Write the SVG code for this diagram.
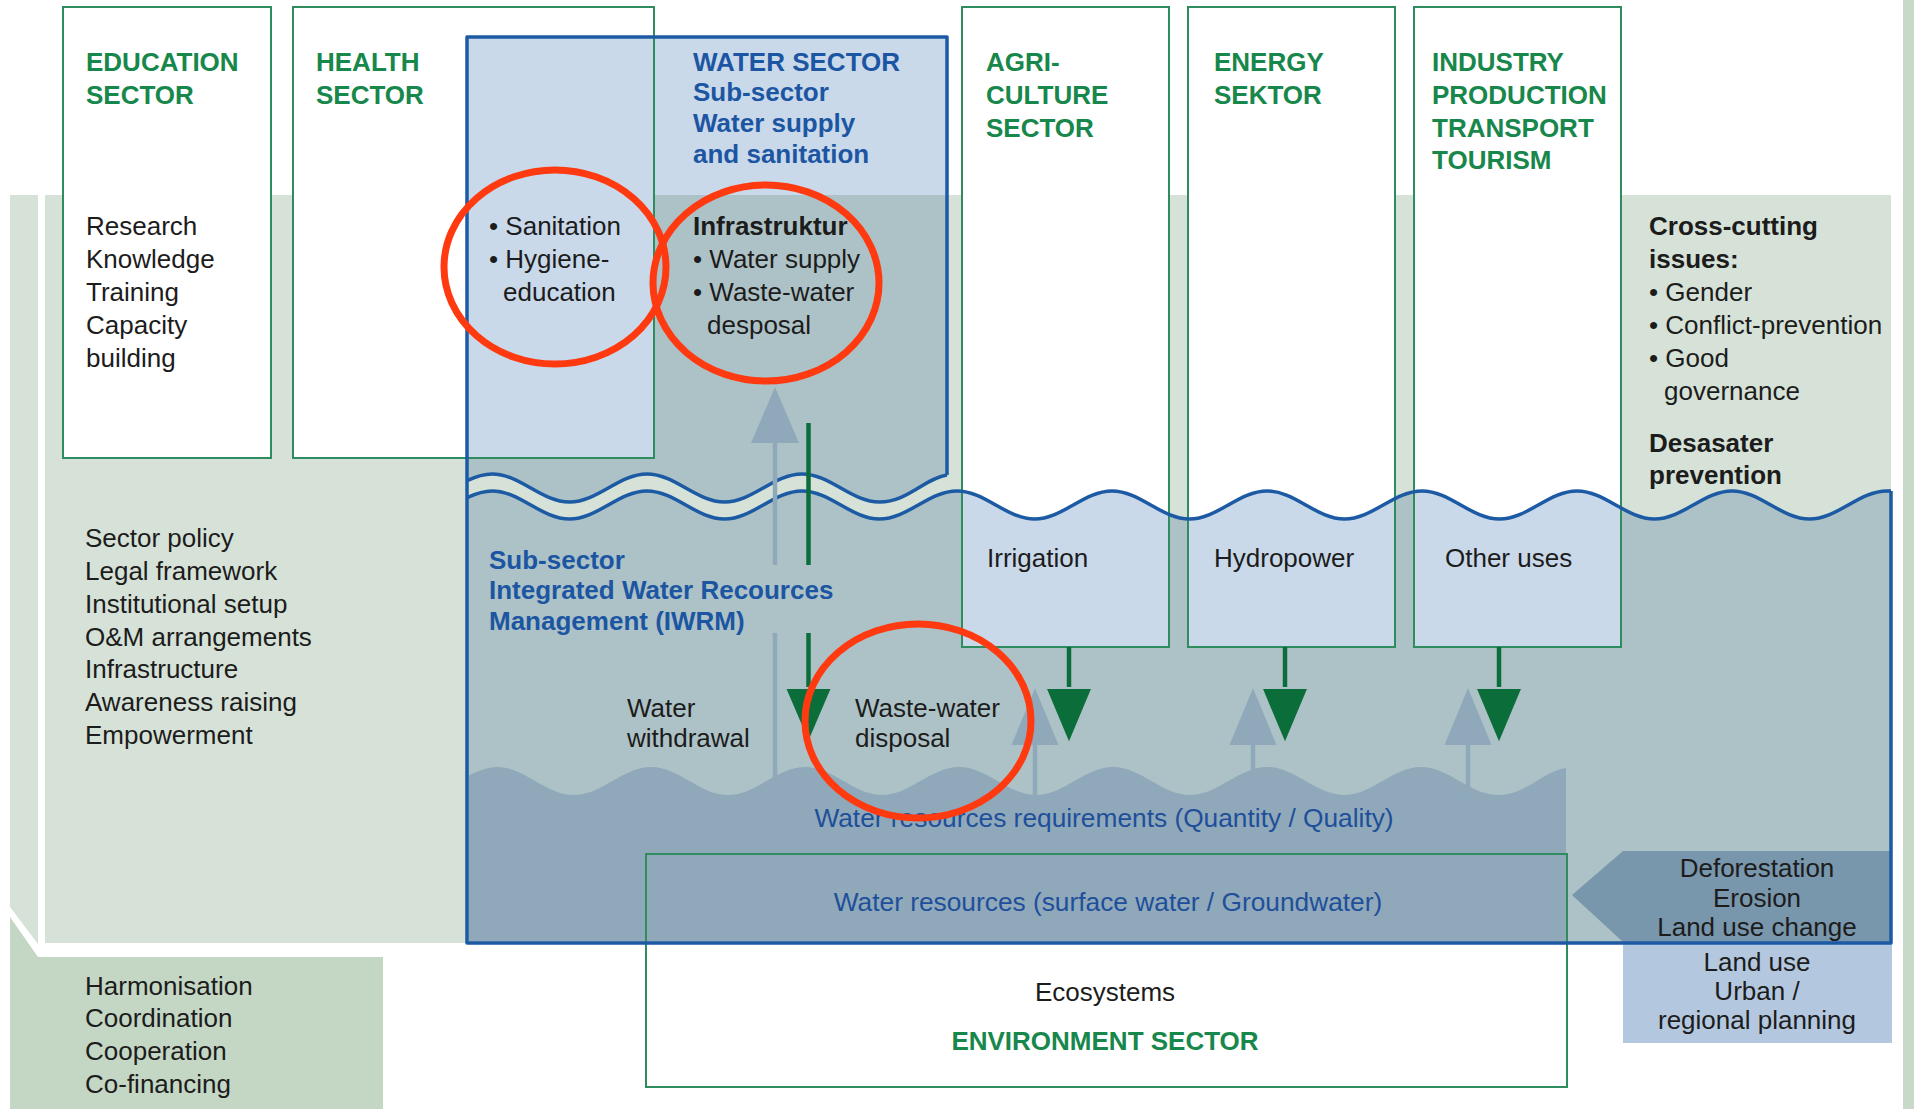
<svg xmlns="http://www.w3.org/2000/svg" width="1914" height="1109" viewBox="0 0 1914 1109">
<defs>
<style>
.t{font-family:"Liberation Sans",Arial,Helvetica,sans-serif;font-size:26px;fill:#1c1c1c}
.b{font-weight:bold}
.g{fill:#17874b}
.bl{fill:#1c56a2}
.bl2{fill:#1f4f9a;font-size:26.3px}
.m{text-anchor:middle}
.box{fill:#fff;stroke:#2f8c5e;stroke-width:2}
.frame{fill:none;stroke:#2f8c5e;stroke-width:2}
.lb{fill:#c9d9ea}
.teal{fill:#adc2c6}
.wave{fill:none;stroke:#1c5aa4;stroke-width:3.5;stroke-linejoin:round}
.gr{fill:#8fa9ba}
.gs{stroke:#8fa9ba;stroke-width:4.5}
.gn{fill:#0b6e3a;stroke:#adc2c6;stroke-width:2}
.gns{stroke:#0b6e3a;stroke-width:4.5}
.ring{fill:none;stroke:#ff3a10;stroke-width:7}
</style>
<clipPath id="iwrmClip">
<path d="M467,497.6 C475,494 483,491 492,491 C520.2,491 541.3,519 569.5,519 S618.8,491 647,491 S696.3,519 724.5,519 S773.8,491 802,491 S851.3,519 879.5,519 S928.8,491 957,491 S1006.3,519 1034.5,519 S1083.8,491 1112,491 S1161.3,519 1189.5,519 S1238.8,491 1267,491 S1316.3,519 1344.5,519 S1393.8,491 1422,491 S1471.3,519 1499.5,519 S1548.8,491 1577,491 S1626.3,519 1654.5,519 S1703.8,491 1732,491 S1781.3,519 1809.5,519 S1858.8,491 1887,491 L1891,491 V943 H467 Z"/>
</clipPath>
</defs>

<rect x="0" y="0" width="1914" height="1109" fill="#ffffff"/>

<g id="background">
<rect x="45" y="195" width="1846" height="748" fill="#d6e2d7"/>
<polygon points="10,195 38,195 38,944 10,907" fill="#d6e2d7"/>
<rect x="1903" y="0" width="11" height="1109" fill="#c8d9c8"/>
</g>

<g id="coordination">
<polygon points="10,917 38,957 383,957 383,1109 10,1109" fill="#c4d7c4"/>
<text class="t" x="85" y="995">Harmonisation</text>
<text class="t" x="85" y="1027">Coordination</text>
<text class="t" x="85" y="1060">Cooperation</text>
<text class="t" x="85" y="1093">Co-financing</text>
</g>

<g id="policy-list">
<text class="t" x="85" y="547">Sector policy</text>
<text class="t" x="85" y="580">Legal framework</text>
<text class="t" x="85" y="613">Institutional setup</text>
<text class="t" x="85" y="646">O&amp;M arrangements</text>
<text class="t" x="85" y="678">Infrastructure</text>
<text class="t" x="85" y="711">Awareness raising</text>
<text class="t" x="85" y="744">Empowerment</text>
</g>

<g id="iwrm-region">
<path class="teal" d="M467,497.6 C475,494 483,491 492,491 C520.2,491 541.3,519 569.5,519 S618.8,491 647,491 S696.3,519 724.5,519 S773.8,491 802,491 S851.3,519 879.5,519 S928.8,491 957,491 S1006.3,519 1034.5,519 S1083.8,491 1112,491 S1161.3,519 1189.5,519 S1238.8,491 1267,491 S1316.3,519 1344.5,519 S1393.8,491 1422,491 S1471.3,519 1499.5,519 S1548.8,491 1577,491 S1626.3,519 1654.5,519 S1703.8,491 1732,491 S1781.3,519 1809.5,519 S1858.8,491 1887,491 L1891,491 V943 H467 Z"/>
<text class="t b bl" x="489" y="569">Sub-sector</text>
<text class="t b bl" x="489" y="599">Integrated Water Recources</text>
<text class="t b bl" x="489" y="630">Management (IWRM)</text>
<text class="t" x="627" y="717">Water</text>
<text class="t" x="627" y="747">withdrawal</text>
<text class="t" x="855" y="717">Waste-water</text>
<text class="t" x="855" y="747">disposal</text>
</g>

<g id="education-sector">
<rect class="box" x="63" y="7" width="208" height="451"/>
<text class="t b g" x="86" y="71">EDUCATION</text>
<text class="t b g" x="86" y="104">SECTOR</text>
<text class="t" x="86" y="235">Research</text>
<text class="t" x="86" y="268">Knowledge</text>
<text class="t" x="86" y="301">Training</text>
<text class="t" x="86" y="334">Capacity</text>
<text class="t" x="86" y="367">building</text>
</g>

<g id="health-sector">
<rect class="box" x="293" y="7" width="361" height="451"/>
<text class="t b g" x="316" y="71">HEALTH</text>
<text class="t b g" x="316" y="104">SECTOR</text>
</g>

<g id="water-sector">
<path class="teal" d="M467,480.6 C475,477 483,474 492,474 C520.2,474 541.3,502 569.5,502 S618.8,474 647,474 S696.3,502 724.5,502 S773.8,474 802,474 S851.3,502 879.5,502 C907.7,502 925,478 947,475 V37 H467 Z"/>
<rect class="lb" x="467" y="37" width="480" height="158"/>
<rect class="lb" x="467" y="195" width="187" height="263"/>
<path class="frame" d="M467,458 H654 V37"/>
<text class="t b bl" x="693" y="71">WATER SECTOR</text>
<text class="t b bl" x="693" y="101">Sub-sector</text>
<text class="t b bl" x="693" y="132">Water supply</text>
<text class="t b bl" x="693" y="163">and sanitation</text>
<text class="t" x="489" y="235">• Sanitation</text>
<text class="t" x="489" y="268">• Hygiene-</text>
<text class="t" x="503" y="301">education</text>
<text class="t b" x="693" y="235">Infrastruktur</text>
<text class="t" x="693" y="268">• Water supply</text>
<text class="t" x="693" y="301">• Waste-water</text>
<text class="t" x="707" y="334">desposal</text>
</g>

<g id="agriculture-sector">
<rect x="962" y="7" width="207" height="640" fill="#fff"/>
<rect class="lb" x="962" y="7" width="207" height="640" clip-path="url(#iwrmClip)"/>
<rect class="frame" x="962" y="7" width="207" height="640"/>
<text class="t b g" x="986" y="71">AGRI-</text>
<text class="t b g" x="986" y="104">CULTURE</text>
<text class="t b g" x="986" y="137">SECTOR</text>
<text class="t" x="987" y="567">Irrigation</text>
</g>

<g id="energy-sector">
<rect x="1188" y="7" width="207" height="640" fill="#fff"/>
<rect class="lb" x="1188" y="7" width="207" height="640" clip-path="url(#iwrmClip)"/>
<rect class="frame" x="1188" y="7" width="207" height="640"/>
<text class="t b g" x="1214" y="71">ENERGY</text>
<text class="t b g" x="1214" y="104">SEKTOR</text>
<text class="t" x="1214" y="567">Hydropower</text>
</g>

<g id="industry-sector">
<rect x="1414" y="7" width="207" height="640" fill="#fff"/>
<rect class="lb" x="1414" y="7" width="207" height="640" clip-path="url(#iwrmClip)"/>
<rect class="frame" x="1414" y="7" width="207" height="640"/>
<text class="t b g" x="1432" y="71">INDUSTRY</text>
<text class="t b g" x="1432" y="104">PRODUCTION</text>
<text class="t b g" x="1432" y="137">TRANSPORT</text>
<text class="t b g" x="1432" y="169">TOURISM</text>
<text class="t" x="1445" y="567">Other uses</text>
</g>

<g id="cross-cutting">
<text class="t b" x="1649" y="235">Cross-cutting</text>
<text class="t b" x="1649" y="268">issues:</text>
<text class="t" x="1649" y="301">• Gender</text>
<text class="t" x="1649" y="334">• Conflict-prevention</text>
<text class="t" x="1649" y="367">• Good</text>
<text class="t" x="1664" y="400">governance</text>
<text class="t b" x="1649" y="452">Desasater</text>
<text class="t b" x="1649" y="484">prevention</text>
</g>

<g id="water-resources">
<path class="gr" d="M469,775.2 C478,771 488,767 497,767 C525,767 546,795 574,795 S623,767 651,767 S700,795 728,795 S777,767 805,767 S854,795 882,795 S931,767 959,767 S1008,795 1036,795 S1085,767 1113,767 S1162,795 1190,795 S1239,767 1267,767 S1316,795 1344,795 S1393,767 1421,767 S1470,795 1498,795 C1526,795 1545,770 1566,768 V941 H469 Z"/>
<text class="t bl2 m" x="1104" y="827">Water resources requirements (Quantity / Quality)</text>
<text class="t bl2 m" x="1108" y="911">Water resources (surface water / Groundwater)</text>
</g>

<g id="land-use-pressure">
<polygon points="1572,895 1623,851 1891,851 1891,942 1623,942" fill="#7896ac"/>
<text class="t m" x="1757" y="877">Deforestation</text>
<text class="t m" x="1757" y="907">Erosion</text>
<text class="t m" x="1757" y="936">Land use change</text>
</g>

<g id="land-use-planning">
<rect x="1623" y="943" width="269" height="100" fill="#b3c8df"/>
<text class="t m" x="1757" y="971">Land use</text>
<text class="t m" x="1757" y="1000">Urban /</text>
<text class="t m" x="1757" y="1029">regional planning</text>
</g>

<g id="environment-sector">
<rect class="frame" x="646" y="854" width="921" height="233"/>
<text class="t m" x="1105" y="1001">Ecosystems</text>
<text class="t b g m" x="1105" y="1050">ENVIRONMENT SECTOR</text>
</g>

<g id="outlines">
<path class="wave" d="M947,475 V37 H467 V943 H1891 V491"/>
<path class="wave" d="M467,497.6 C475,494 483,491 492,491 C520.2,491 541.3,519 569.5,519 S618.8,491 647,491 S696.3,519 724.5,519 S773.8,491 802,491 S851.3,519 879.5,519 S928.8,491 957,491 S1006.3,519 1034.5,519 S1083.8,491 1112,491 S1161.3,519 1189.5,519 S1238.8,491 1267,491 S1316.3,519 1344.5,519 S1393.8,491 1422,491 S1471.3,519 1499.5,519 S1548.8,491 1577,491 S1626.3,519 1654.5,519 S1703.8,491 1732,491 S1781.3,519 1809.5,519 S1858.8,491 1887,491 L1891,491"/>
<path class="wave" d="M467,480.6 C475,477 483,474 492,474 C520.2,474 541.3,502 569.5,502 S618.8,474 647,474 S696.3,502 724.5,502 S773.8,474 802,474 S851.3,502 879.5,502 C907.7,502 925,478 947,475"/>
</g>

<g id="connectors">
<line class="gs" x1="775" y1="440" x2="775" y2="565"/>
<line class="gs" x1="775" y1="633" x2="775" y2="792"/>
<polygon class="gr" points="751,443 799,443 775,387"/>
<line class="gns" x1="808.5" y1="423" x2="808.5" y2="565"/>
<line class="gns" x1="808.5" y1="633" x2="808.5" y2="690"/>
<polygon class="gn" points="785,688 832,688 808.5,743"/>

<line class="gs" x1="1035" y1="740" x2="1035" y2="798"/>
<polygon class="gr" points="1011.5,745 1058.5,745 1035,688"/>
<line class="gns" x1="1069" y1="647" x2="1069" y2="690"/>
<polygon class="gn" points="1045.5,688 1092.5,688 1069,744"/>

<line class="gs" x1="1253" y1="740" x2="1253" y2="785"/>
<polygon class="gr" points="1229.5,745 1276.5,745 1253,688"/>
<line class="gns" x1="1285" y1="647" x2="1285" y2="690"/>
<polygon class="gn" points="1261.5,688 1308.5,688 1285,744"/>

<line class="gs" x1="1468" y1="740" x2="1468" y2="797"/>
<polygon class="gr" points="1444.5,745 1491.5,745 1468,688"/>
<line class="gns" x1="1499" y1="647" x2="1499" y2="690"/>
<polygon class="gn" points="1475.5,688 1522.5,688 1499,744"/>
</g>

<g id="highlights">
<ellipse class="ring" cx="555" cy="267" rx="111" ry="97"/>
<ellipse class="ring" cx="766" cy="283" rx="113" ry="98"/>
<ellipse class="ring" cx="918" cy="721" rx="113" ry="97"/>
</g>
</svg>
